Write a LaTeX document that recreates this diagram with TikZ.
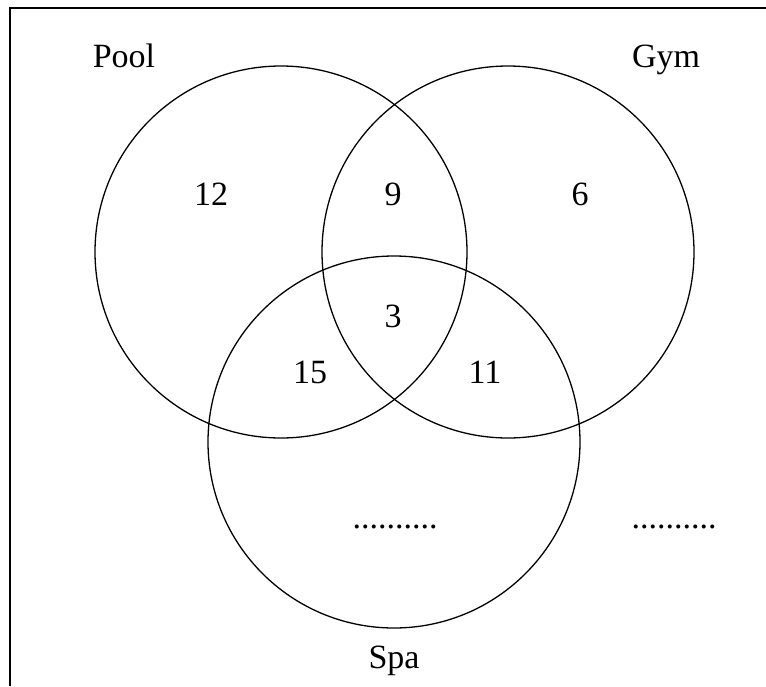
\documentclass[tikz,border=0pt]{standalone}
\usepackage{fontspec}
\setmainfont{Liberation Serif}
\begin{document}
\begin{tikzpicture}[x=1pt,y=-1pt,
  lbl/.style={anchor=base,inner sep=0pt,font=\fontsize{34}{40}\selectfont},
  setcircle/.style={draw,line width=1.3pt}]
\useasboundingbox (0,0) rectangle (766,686);
\coordinate (ftl) at (10,8);
\coordinate (ftr) at (766,8);
\coordinate (fbl) at (10,686);
\draw[line width=2pt] (ftr) -- (ftl) -- (fbl);
\draw[setcircle] (281,252) circle[radius=186];
\draw[setcircle] (508,252) circle[radius=186];
\draw[setcircle] (394,442) circle[radius=186];
\node[lbl] (pool) at (124,67) {Pool};
\node[lbl] (gym) at (666,67) {Gym};
\node[lbl] (spa) at (394,668) {Spa};
\node[lbl] (n12) at (211,205) {12};
\node[lbl] (n9) at (393,205) {9};
\node[lbl] (n6) at (580,205) {6};
\node[lbl] (n3) at (393,327) {3};
\node[lbl] (n15) at (310,383) {15};
\node[lbl] (n11) at (485,383) {11};
\node[lbl] (d1) at (395,528) {..........};
\node[lbl] (d2) at (674,528) {..........};
\end{tikzpicture}
\end{document}
